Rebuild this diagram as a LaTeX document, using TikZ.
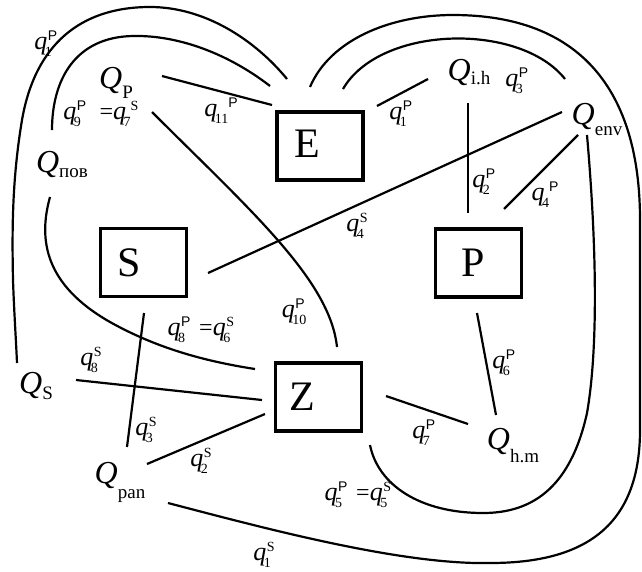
\documentclass[tikz,border=0pt]{standalone}
\usepackage{fontspec}
\setmainfont{Liberation Serif}
\newfontfamily\sansf{Liberation Sans}
\newcommand{\Qsym}[2][-8pt]{{\fontsize{32}{32}\selectfont\itshape Q}\raisebox{#1}{\fontsize{19}{19}\selectfont #2}}
\newcommand{\qbase}[2]{{\fontsize{26}{26}\selectfont\itshape q}\rlap{\kern0.5pt\raisebox{9pt}{\fontsize{14}{14}\selectfont #1}}\kern-2.5pt\raisebox{-7pt}{\fontsize{14}{14}\selectfont #2}\kern2pt}
\newcommand{\qafter}[2]{{\fontsize{26}{26}\selectfont\itshape q}\kern-2.5pt\raisebox{-7pt}{\fontsize{14}{14}\selectfont #2}\kern0pt\raisebox{9pt}{\fontsize{14}{14}\selectfont #1}}
\newcommand{\qP}[1]{\qbase{\sansf P}{#1}}
\newcommand{\qS}[1]{\qbase{S}{#1}}
\newcommand{\eqs}{{\fontsize{24}{24}\selectfont =}}
\begin{document}
\begin{tikzpicture}[x=1pt,y=-1pt,
  lbl/.style={inner sep=0pt,outer sep=0pt},
  boxnode/.style={draw,line width=3.5pt,minimum width=86pt,minimum height=68pt,inner sep=0pt},
  boxletter/.style={inner sep=0pt,font=\fontsize{42}{42}\selectfont},
  conn/.style={line width=2.2pt}]
\useasboundingbox[fill=white] (0,0) rectangle (642,571);
% boxes
\node[boxnode] (E) at (320,146) {};
\node[boxnode] (S) at (143.5,262.5) {};
\node[boxnode] (P) at (478.5,263) {};
\node[boxnode] (Z) at (318.5,397) {};
\node[boxletter] (Et) at (307,144) {E};
\node[boxletter] (St) at (129,263) {S};
\node[boxletter] (Pt) at (473,263) {P};
\node[boxletter] (Zt) at (302,397) {Z};
% Q nodes
\node[lbl] (QP) at (116,83) {\Qsym[-10pt]{P}};
\node[lbl] (Qpov) at (62,164) {\Qsym[-5pt]{пов}};
\node[lbl] (Qih) at (469,72) {\Qsym[-4pt]{i.h}};
\node[lbl] (Qenv) at (597,119) {\Qsym[-11pt]{env}};
\node[lbl] (QS) at (36,386) {\Qsym[-6pt]{S}};
\node[lbl] (Qpan) at (120,482) {\Qsym[-15pt]{pan}};
\node[lbl] (Qhm) at (513,446) {\Qsym[-13pt]{h.m}};
% q labels
\node[lbl] (l1) at (44,44) {\qP{1}};
\node[lbl] (l2) at (73,114) {\qP{9}};
\node[lbl] (l3) at (119,114) {\eqs\qafter{S}{7}};
\node[lbl] (l4) at (221,111) {\qafter{\sansf P}{11}};
\node[lbl] (l5) at (399,114) {\qP{1}};
\node[lbl] (l6) at (515,81) {\qP{3}};
\node[lbl] (l7) at (482,182) {\qP{2}};
\node[lbl] (l8) at (545,195) {\qafter{\sansf P}{4}};
\node[lbl] (l9) at (356,226) {\qS{4}};
\node[lbl] (l10) at (295,312) {\qP{10}};
\node[lbl] (l11) at (200,330) {\qP{8}\hspace{12pt}\eqs\qS{6}};
\node[lbl] (l12) at (90,360) {\qS{8}};
\node[lbl] (l13) at (145,430) {\qS{3}};
\node[lbl] (l14) at (200,461) {\qS{2}};
\node[lbl] (l15) at (263,555) {\qS{1}};
\node[lbl] (l16) at (502,363) {\qP{6}};
\node[lbl] (l17) at (422,433) {\qP{7}};
\node[lbl] (l18) at (357,495) {\qP{5}\hspace{12pt}\eqs\qS{5}};
% connector end points
\coordinate (QP-a) at (162,76);   \coordinate (E-a) at (272,105);
\coordinate (QP-b) at (152,112);  \coordinate (Z-b) at (337,347);
\coordinate (Qenv-c) at (562,112);\coordinate (S-c) at (208,273);
\coordinate (Qih-d) at (468,103); \coordinate (P-d) at (468,213);
\coordinate (E-e) at (377,106);   \coordinate (Qih-e) at (428,79);
\coordinate (Qenv-f) at (578,135);\coordinate (P-f) at (504,209);
\coordinate (E-g) at (343,89);    \coordinate (Qenv-g) at (565,79);
\coordinate (E-h) at (310,87);    \coordinate (Qpan-h) at (168,503);
\coordinate (Qenv-i) at (587,135);\coordinate (Z-i) at (370,445);
\coordinate (P-j) at (477,313);   \coordinate (Qhm-j) at (496,415);
\coordinate (Z-k) at (386,396);   \coordinate (Qhm-k) at (468,424);
\coordinate (E-l) at (287,79);    \coordinate (QS-l) at (17,363);
\coordinate (E-m) at (270,86);    \coordinate (Qpov-m) at (52,130);
\coordinate (Qpov-n) at (50,197); \coordinate (Z-n) at (255,369);
\coordinate (QS-o) at (76,380);   \coordinate (Z-o) at (262,400);
\coordinate (S-p) at (144,313);   \coordinate (Qpan-p) at (127,447);
\coordinate (Qpan-q) at (147,464);\coordinate (Z-q) at (265,414);
% connectors
\draw[conn] (QP-a) -- (E-a);
\draw[conn] (QP-b) .. controls (250,210) and (330,280) .. (Z-b);
\draw[conn] (Qenv-c) -- (S-c);
\draw[conn] (Qih-d) -- (P-d);
\draw[conn] (E-e) -- (Qih-e);
\draw[conn] (Qenv-f) -- (P-f);
\draw[conn] (E-g) .. controls (380,25) and (520,22) .. (Qenv-g);
\draw[conn] (E-h) .. controls (330,40) and (390,15) .. (453,15)
  .. controls (580,15) and (640,90) .. (640,220) -- (640,430)
  .. controls (640,530) and (580,563) .. (490,563)
  .. controls (400,565) and (260,527) .. (Qpan-h);
\draw[conn] (Qenv-i) .. controls (597,250) and (598,350) .. (587,413)
  .. controls (570,490) and (530,513) .. (483,513)
  .. controls (420,513) and (378,485) .. (Z-i);
\draw[conn] (P-j) -- (Qhm-j);
\draw[conn] (Z-k) -- (Qhm-k);
\draw[conn] (E-l) .. controls (255,40) and (205,7) .. (150,7)
  .. controls (80,7) and (35,45) .. (22,120)
  .. controls (12,180) and (12,230) .. (13,280)
  .. controls (14,310) and (16,340) .. (QS-l);
\draw[conn] (E-m) .. controls (230,55) and (180,35) .. (133,36)
  .. controls (75,37) and (52,80) .. (Qpov-m);
\draw[conn] (Qpov-n) .. controls (38,240) and (45,285) .. (110,322)
  .. controls (160,350) and (210,362) .. (Z-n);
\draw[conn] (QS-o) -- (Z-o);
\draw[conn] (S-p) -- (Qpan-p);
\draw[conn] (Qpan-q) -- (Z-q);
\end{tikzpicture}
\end{document}
